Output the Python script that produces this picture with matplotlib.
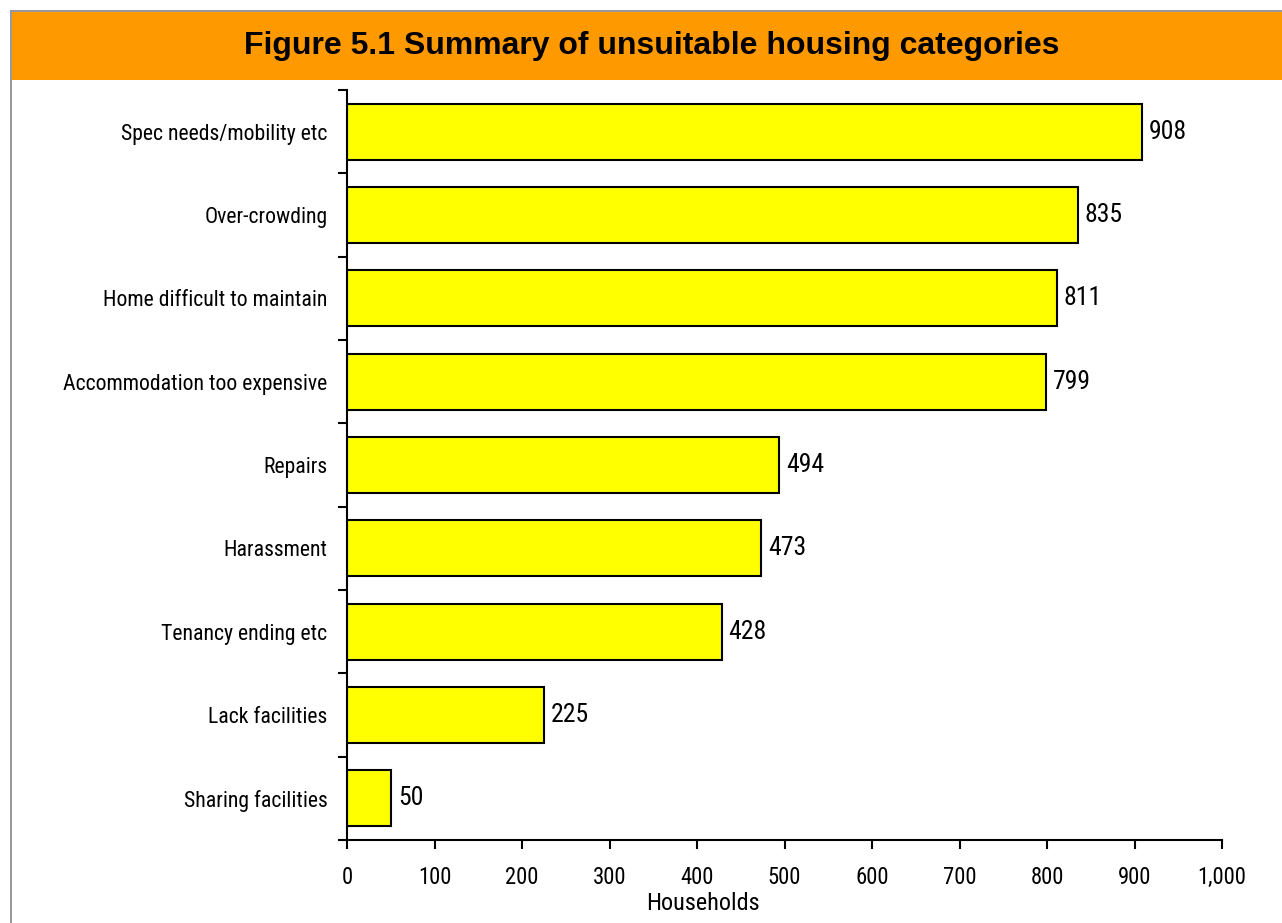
import numpy as np
import matplotlib
matplotlib.use('Agg')
import matplotlib.pyplot as plt
from matplotlib.patches import Rectangle
from matplotlib.ticker import FuncFormatter

categories = ['Spec needs/mobility etc', 'Over-crowding', 'Home difficult to maintain',
              'Accommodation too expensive', 'Repairs', 'Harassment',
              'Tenancy ending etc', 'Lack facilities', 'Sharing facilities']
households = [908, 835, 811, 799, 494, 473, 428, 225, 50]
xticks = [0, 100, 200, 300, 400, 500, 600, 700, 800, 900, 1000]

narrow = ['Roboto Condensed', 'DejaVu Sans']
plt.rcParams['font.family'] = narrow

W, H = 1282, 923
fig = plt.figure(figsize=(W / 100, H / 100), dpi=100)

# frame and orange title band
fig.patches.append(Rectangle((10 / W, 0), 2 / W, 1 - 10 / H, transform=fig.transFigure,
                             facecolor='#999999', edgecolor='none'))
fig.patches.append(Rectangle((10 / W, 1 - 12 / H), 1, 2 / H, transform=fig.transFigure,
                             facecolor='#999999', edgecolor='none'))
fig.patches.append(Rectangle((12 / W, 1 - 80 / H), 1, 68 / H, transform=fig.transFigure,
                             facecolor='#FF9900', edgecolor='none'))
fig.text(652 / W, 1 - 46 / H, 'Figure 5.1 Summary of unsuitable housing categories',
         ha='center', va='center', fontsize=23, fontweight='bold',
         family=['Liberation Sans', 'DejaVu Sans'])

ax = fig.add_axes([347 / W, 1 - 840 / H, (1222 - 347) / W, 750 / H])
y = np.arange(len(categories))
ax.barh(y, households, height=0.67, color='#FFFF00', edgecolor='black', linewidth=1.5)
for yi, v in zip(y, households):
    ax.text(v + 8, yi, str(v), va='center', ha='left', fontsize=18.5)

ax.set_xlim(0, 1000)
ax.set_ylim(len(categories) - 0.5, -0.5)
ax.set_xticks(xticks)
ax.xaxis.set_major_formatter(FuncFormatter(lambda v, p: f'{int(v):,}'))
ax.tick_params(axis='x', direction='out', length=6.5, width=1.5, labelsize=16.3, pad=12)

ax.set_yticks(np.arange(len(categories) + 1) - 0.5)
ax.set_yticklabels([])
ax.set_yticks(y, minor=True)
ax.set_yticklabels(categories, minor=True)
ax.tick_params(axis='y', which='major', direction='out', length=6.5, width=1.5)
ax.tick_params(axis='y', which='minor', length=0, labelsize=15.7, pad=14)

for s in ['top', 'right']:
    ax.spines[s].set_visible(False)
for s in ['left', 'bottom']:
    ax.spines[s].set_linewidth(1.5)

fig.text(703 / W, 1 - 903 / H, 'Households', ha='center', va='center', fontsize=17.5)

fig.savefig('out.png', dpi=100)
